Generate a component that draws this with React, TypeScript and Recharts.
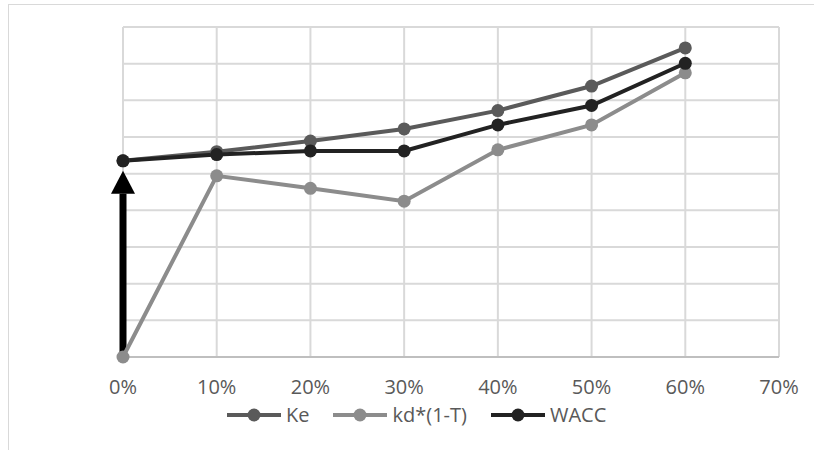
import React from 'react';
import { LineChart, Line, XAxis, YAxis, CartesianGrid, Legend, ReferenceLine } from 'recharts';

const debtRatios = [0, 10, 20, 30, 40, 50, 60];
const keValues = [5.35, 5.6, 5.89, 6.22, 6.72, 7.39, 8.43];
const kdValues = [0, 4.94, 4.6, 4.25, 5.65, 6.33, 7.75];
const waccValues = [5.35, 5.52, 5.62, 5.62, 6.33, 6.86, 8.01];
const xTicks = [0, 10, 20, 30, 40, 50, 60, 70];
const yTicks = [0, 1, 2, 3, 4, 5, 6, 7, 8, 9];
const arrowBase = { x: 0, y: 0 };
const arrowTip = { x: 0, y: 5.08 };

const seriesNames = { ke: 'Ke', kd: 'kd*(1-T)', wacc: 'WACC' };
const legendOrder = [seriesNames.ke, seriesNames.kd, seriesNames.wacc];
const colors = { ke: '#5a5a5a', kd: '#8c8c8c', wacc: '#222222', arrow: '#000000', grid: '#d9d9d9', text: '#595959' };

const data = debtRatios.map((d, i) => ({
  debt: d,
  ke: keValues[i],
  kd: kdValues[i],
  wacc: waccValues[i],
}));

const FONT = '"Open Sans", sans-serif';

const ArrowShape = (props: any) => {
  const { x1, y1, x2, y2 } = props;
  if (x1 == null || y1 == null || x2 == null || y2 == null) return null;
  const headLen = 23;
  const headHalf = 12;
  const baseY = y2 + headLen;
  return (
    <g>
      <line x1={x1} y1={y1} x2={x2} y2={baseY} stroke={colors.arrow} strokeWidth={7} />
      <polygon points={`${x2},${y2} ${x2 - headHalf},${baseY} ${x2 + headHalf},${baseY}`} fill={colors.arrow} />
    </g>
  );
};

const LegendContent = (props: any) => {
  const payload = [...(props.payload || [])].sort(
    (a: any, b: any) => legendOrder.indexOf(a.value) - legendOrder.indexOf(b.value)
  );
  return (
    <div style={{ display: 'flex', alignItems: 'center', paddingLeft: 227, height: 26, fontFamily: FONT, fontSize: 20, color: colors.text }}>
      {payload.map((p: any, i: number) => (
        <div key={i} style={{ display: 'flex', alignItems: 'center', marginRight: 24 }}>
          <svg width={54} height={16} style={{ marginRight: 5 }}>
            <line x1={0} y1={8} x2={54} y2={8} stroke={p.color} strokeWidth={4} />
            <circle cx={27} cy={8} r={6.5} fill={p.color} />
          </svg>
          <span style={{ lineHeight: '26px' }}>{p.value}</span>
        </div>
      ))}
    </div>
  );
};

export default function App() {
  return (
    <div style={{ position: 'absolute', left: 0, top: 0, width: 814, height: 450, overflow: 'hidden', background: '#fff' }}>
      <div style={{ position: 'absolute', left: 8, top: 4, width: 1000, height: 1000, border: `1px solid ${colors.grid}`, boxSizing: 'border-box' }} />
      <div style={{ position: 'absolute', left: 0, top: 0 }}>
        <LineChart width={814} height={450} data={data} margin={{ top: 27, right: 35, left: 123, bottom: 27 }}>
          <CartesianGrid stroke={colors.grid} strokeWidth={2} />
          <XAxis
            dataKey="debt"
            type="number"
            domain={[0, 70]}
            ticks={xTicks}
            tickFormatter={(v: number) => `${v}%`}
            tickLine={false}
            tickSize={0}
            tickMargin={23}
            height={40}
            axisLine={{ stroke: '#bfbfbf', strokeWidth: 2 }}
            tick={{ fill: colors.text, fontSize: 20, fontFamily: FONT }}
            interval={0}
          />
          <YAxis hide type="number" domain={[0, 9]} ticks={yTicks} />
          <ReferenceLine
            segment={[arrowBase, arrowTip]}
            shape={ArrowShape}
            ifOverflow="visible"
          />
          <Line
            dataKey="ke"
            name={seriesNames.ke}
            stroke={colors.ke}
            strokeWidth={4}
            dot={{ r: 6.5, fill: colors.ke, stroke: colors.ke, strokeWidth: 0 }}
            activeDot={false}
            isAnimationActive={false}
          />
          <Line
            dataKey="kd"
            name={seriesNames.kd}
            stroke={colors.kd}
            strokeWidth={4}
            dot={{ r: 6.5, fill: colors.kd, stroke: colors.kd, strokeWidth: 0 }}
            activeDot={false}
            isAnimationActive={false}
          />
          <Line
            dataKey="wacc"
            name={seriesNames.wacc}
            stroke={colors.wacc}
            strokeWidth={4}
            dot={{ r: 6.5, fill: colors.wacc, stroke: colors.wacc, strokeWidth: 0 }}
            activeDot={false}
            isAnimationActive={false}
          />
          <Legend
            verticalAlign="bottom"
            itemSorter={null as any}
            content={LegendContent}
            wrapperStyle={{ top: 402, bottom: 'auto', left: 0, width: 814, height: 26 }}
          />
        </LineChart>
      </div>
    </div>
  );
}
